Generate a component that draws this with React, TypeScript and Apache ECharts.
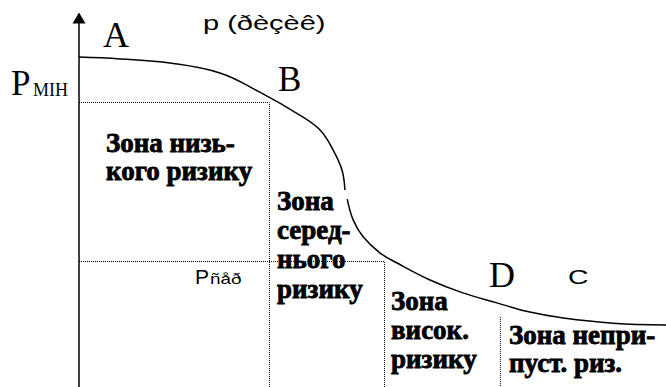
import React, { useEffect, useRef } from "react";
import * as echarts from "echarts";

// Curve of acceptable probability vs. loss (abstract units 0..100)
const upperCurveX = [0, 7.0, 15.5, 24.0, 30.8, 37.6, 41.1, 43.3, 44.8, 45.3];
const upperCurveY = [89.4, 88.9, 87.8, 85.1, 79.9, 73.7, 69.6, 64.2, 58.8, 53.4];
const lowerCurveX = [45.7, 46.7, 48.4, 51.3, 54.2, 59.8, 65.4, 71.2, 76.8, 82.5, 91.0, 100];
const lowerCurveY = [50.9, 45.3, 40.7, 36.3, 33.6, 29.0, 25.5, 22.8, 20.3, 18.7, 17.3, 16.8];

// Zone boundaries
const levelPmin = 77.1;
const levelPser = 34.0;
const boundaryLow = 32.45;
const boundaryMid = 52.05;
const boundaryHigh = 71.8;
const boundaryHighTop = 19.0;

// Labels
const zoneLabels = [
  "Зона низь-\nкого ризику",
  "Зона\nсеред-\nнього\nризику",
  "Зона\nвисок.\nризику",
  "Зона непри-\nпуст. риз.",
];
const pointLabels = ["A", "B", "D", "C"];
const axisTitle = "p (ðèçèê)";
const pMinLabel = ["P", "МІН"];
const pSerLabel = ["P", "ñåð"];

const serif = "'Liberation Serif', 'Times New Roman', serif";
const sans = "'Liberation Sans', Arial, sans-serif";

function zip(xs: number[], ys: number[]) {
  return xs.map((x, i) => [x, ys[i]]);
}

export default function App() {
  const ref = useRef<HTMLDivElement>(null);
  useEffect(() => {
    if (!ref.current) return;
    const chart = echarts.init(ref.current, undefined, { renderer: "svg" });
    const dotted = { color: "#000", width: 1, type: "dotted" as const };
    const zoneText = (text: string, x: number, y: number, lh = 29) => ({
      type: "text",
      x,
      y,
      style: {
        text,
        fontFamily: serif,
        fontWeight: "bold",
        fontSize: 27,
        lineHeight: lh,
        fill: "#000",
        stroke: "#000",
        lineWidth: 0.8,
        align: "left",
        verticalAlign: "top",
      },
    });
    const plain = (text: string, x: number, y: number, size: number, family: string, scaleX = 1) => ({
      type: "text",
      x,
      y,
      scaleX,
      style: {
        text,
        fontFamily: family,
        fontSize: size,
        fill: "#000",
        align: "left",
        verticalAlign: "middle",
      },
    });
    chart.setOption({
      animation: false,
      backgroundColor: "#fff",
      grid: { left: 79, right: 0, top: 18, bottom: 0 },
      xAxis: {
        type: "value",
        min: 0,
        max: 100,
        show: false,
      },
      yAxis: {
        type: "value",
        min: 0,
        max: 100,
        axisLine: {
          show: true,
          lineStyle: { color: "#000", width: 1.5 },
          symbol: ["none", "triangle"],
          symbolSize: [13, 11],
        },
        axisTick: { show: false },
        axisLabel: { show: false },
        splitLine: { show: false },
      },
      series: [
        {
          type: "line",
          data: zip(upperCurveX, upperCurveY),
          smooth: 0.4,
          showSymbol: false,
          lineStyle: { color: "#000", width: 1.5 },
        },
        {
          type: "line",
          data: zip(lowerCurveX, lowerCurveY),
          smooth: 0.4,
          showSymbol: false,
          lineStyle: { color: "#000", width: 1.5 },
        },
        {
          type: "line",
          data: [[0, levelPmin], [boundaryLow, levelPmin], [boundaryLow, 0]],
          showSymbol: false,
          lineStyle: dotted,
        },
        {
          type: "line",
          data: [[0, levelPser], [boundaryMid, levelPser], [boundaryMid, 0]],
          showSymbol: false,
          lineStyle: dotted,
        },
        {
          type: "line",
          data: [[boundaryHigh, boundaryHighTop], [boundaryHigh, 0]],
          showSymbol: false,
          lineStyle: dotted,
        },
      ],
      graphic: [
        plain(axisTitle, 203, 23, 20, sans, 1.45),
        plain(pointLabels[0], 103, 35, 36, serif),
        plain(pointLabels[1], 278, 79, 35, serif),
        plain(pointLabels[2], 489, 275, 36, serif),
        plain(pointLabels[3], 568, 276, 21, sans, 1.35),
        plain(pMinLabel[0], 11, 83, 35, serif),
        plain(pMinLabel[1], 33, 89.5, 18, serif),
        plain(pSerLabel[0], 195, 276, 21, sans),
        plain(pSerLabel[1], 210, 279, 14, sans, 1.35),
        zoneText(zoneLabels[0], 106, 129, 28),
        zoneText(zoneLabels[1], 277, 186, 29.3),
        zoneText(zoneLabels[2], 391, 286, 29),
        zoneText(zoneLabels[3], 509, 321, 28),
      ],
    });
    return () => chart.dispose();
  }, []);
  return (
    <div
      ref={ref}
      style={{ position: "fixed", left: 0, top: 0, width: 666, height: 387, background: "#fff" }}
    />
  );
}
